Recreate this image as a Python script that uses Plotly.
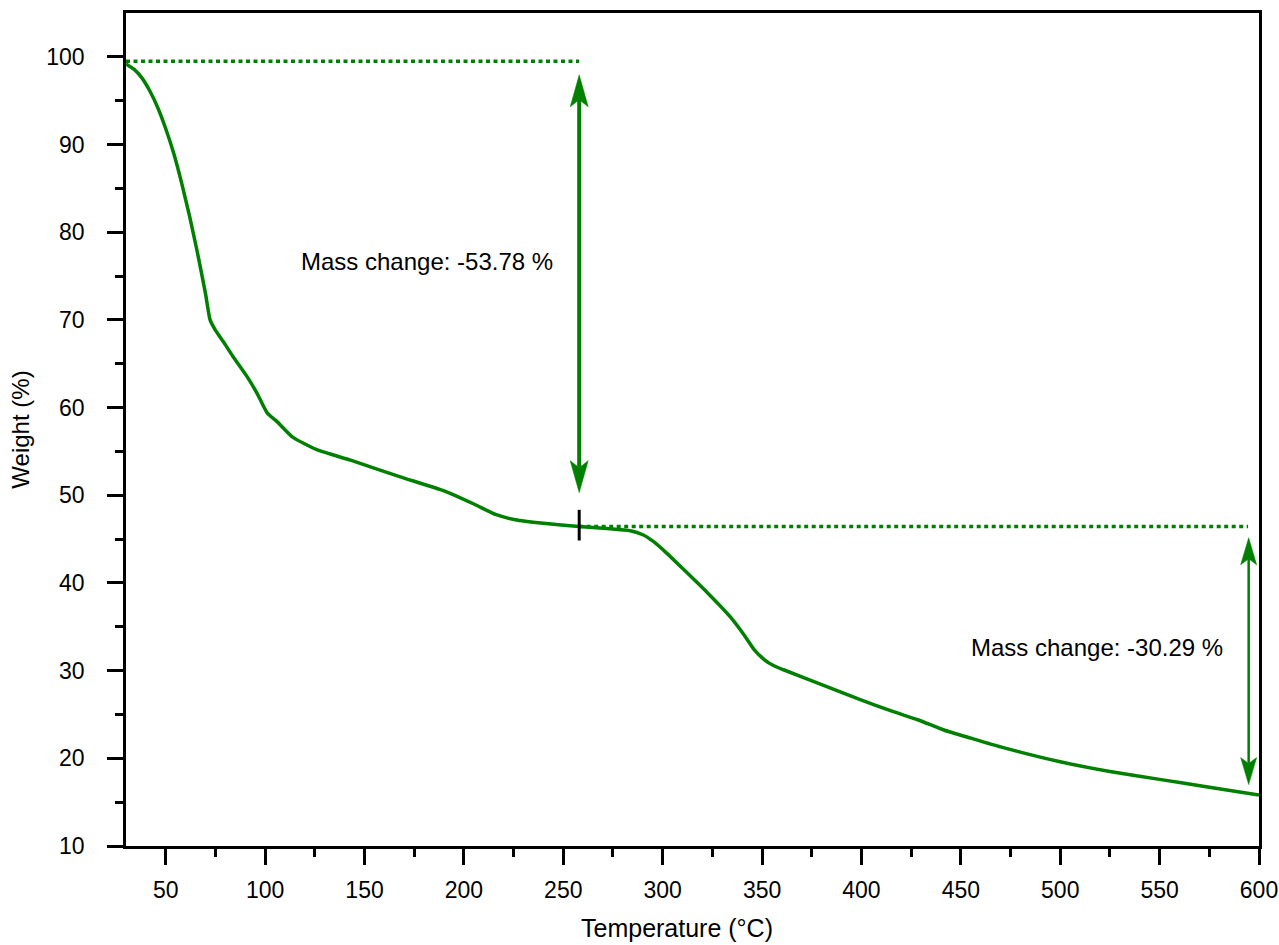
import plotly.graph_objects as go

# ---- data ----
temp = [30, 34, 38, 42, 46, 50, 54, 58, 62, 66, 70, 72.3, 74.8, 79, 83.9, 91, 96,
        101, 106, 114, 126, 143, 168, 190, 205, 216.3, 225.9, 240, 257.9, 272, 283.7, 290,
        295.3, 302, 310.7, 322, 333.8, 341.5, 346, 351.2, 356, 360.8, 380, 399.4, 415, 428.3,
        441.8, 455, 470, 500, 525, 550, 575, 600]
weight = [99.2, 98.6, 97.6, 96.1, 94.2, 91.8, 89.0, 85.6, 81.8, 77.6, 73.0, 70.0, 68.9, 67.5,
          65.8, 63.5, 61.6, 59.4, 58.4, 56.6, 55.2, 54.0, 52.1, 50.5, 49.0, 47.78, 47.2, 46.8,
          46.44, 46.2, 45.95, 45.5, 44.73, 43.4, 41.5, 39.0, 36.18, 33.9, 32.4, 31.24, 30.55,
          30.1, 28.4, 26.68, 25.4, 24.4, 23.2, 22.3, 21.3, 19.6, 18.5, 17.6, 16.7, 15.8]

start_weight = 99.5          # upper reference level
step_temp = 258              # boundary between the two steps
step_weight = 46.44          # level at the boundary
end_temp = 594.5             # end of second reference line / second arrow
arrow1_range = [97.95, 50.3]
arrow2_range = [45.15, 17.0]
labels = ["Mass change: -53.78 %", "Mass change: -30.29 %"]
label_pos = [(181.6, 76.7), (518.7, 32.6)]

x_ticks = list(range(50, 601, 50))
y_ticks = list(range(10, 101, 10))
x_minor = list(range(75, 600, 50))
y_minor = list(range(15, 100, 10))

GREEN = "rgb(0,128,0)"
FONT = "Liberation Sans, Arial, sans-serif"

X_RANGE = [30, 600]
Y_RANGE = [10, 105]
L, R, T, B = 126, 20, 13, 99
W, H = 1279, 945
px_x = (W - L - R) / (X_RANGE[1] - X_RANGE[0])
px_y = (H - T - B) / (Y_RANGE[1] - Y_RANGE[0])

fig = go.Figure()

# main curve
fig.add_trace(go.Scatter(x=temp, y=weight, mode="lines",
                         line=dict(color=GREEN, width=3.5, shape="spline", smoothing=0.5),
                         hoverinfo="skip", showlegend=False))

# dotted reference lines
fig.add_trace(go.Scatter(x=[X_RANGE[0], step_temp], y=[start_weight, start_weight], mode="lines",
                         line=dict(color=GREEN, width=3.5, dash="4px,3.5px"),
                         hoverinfo="skip", showlegend=False))
fig.add_trace(go.Scatter(x=[step_temp, end_temp], y=[step_weight, step_weight], mode="lines",
                         line=dict(color=GREEN, width=3.5, dash="4px,3.5px"),
                         hoverinfo="skip", showlegend=False))

# black step marker
fig.add_trace(go.Scatter(x=[step_temp, step_temp], y=[step_weight - 1.6, step_weight + 1.9],
                         mode="lines", line=dict(color="black", width=3),
                         hoverinfo="skip", showlegend=False))

shapes = []


def double_arrow(x, y_top, y_bot, shaft_w, head_len_px, head_hw_px):
    hl = head_len_px / px_y
    hw = head_hw_px / px_x
    notch = hl * 0.78
    shapes.append(dict(type="line", xref="x", yref="y", x0=x, x1=x,
                       y0=y_top - notch, y1=y_bot + notch,
                       line=dict(color=GREEN, width=shaft_w)))
    shapes.append(dict(type="path", xref="x", yref="y",
                       path=f"M {x},{y_top} L {x + hw},{y_top - hl} L {x},{y_top - notch} "
                            f"L {x - hw},{y_top - hl} Z",
                       fillcolor=GREEN, line=dict(color=GREEN, width=0.5)))
    shapes.append(dict(type="path", xref="x", yref="y",
                       path=f"M {x},{y_bot} L {x + hw},{y_bot + hl} L {x},{y_bot + notch} "
                            f"L {x - hw},{y_bot + hl} Z",
                       fillcolor=GREEN, line=dict(color=GREEN, width=0.5)))


double_arrow(step_temp, arrow1_range[0], arrow1_range[1], 4, 32, 9)
double_arrow(end_temp + 0.3, arrow2_range[0], arrow2_range[1], 2.5, 27, 8)

annotations = [dict(x=px_, y=py_, xref="x", yref="y", text=t, showarrow=False,
                    font=dict(family=FONT, size=24, color="black"))
               for t, (px_, py_) in zip(labels, label_pos)]

# x-axis title (slightly left of plot centre in the reference)
annotations.append(dict(x=(677 - L) / (W - L - R), y=-(928 - (H - B)) / (H - T - B),
                        xref="paper", yref="paper", xanchor="center", yanchor="middle",
                        text="Temperature (°C)", showarrow=False,
                        font=dict(family=FONT, size=25, color="black")))

axis_common = dict(showline=True, linecolor="black", linewidth=2.5, mirror=True,
                   ticks="outside", ticklen=16, tickwidth=2.5, tickcolor="black",
                   showgrid=False, zeroline=False, automargin=False,
                   tickfont=dict(family=FONT, size=23, color="black"))

fig.update_layout(
    width=W, height=H,
    margin=dict(l=L, r=R, t=T, b=B),
    plot_bgcolor="white", paper_bgcolor="white",
    shapes=shapes, annotations=annotations,
    xaxis=dict(range=X_RANGE, tickvals=x_ticks,
               minor=dict(tickvals=x_minor, ticks="outside", ticklen=8, tickwidth=2.5,
                          tickcolor="black"),
               ticklabelstandoff=6,
               **axis_common),
    yaxis=dict(range=Y_RANGE, tickvals=y_ticks,
               minor=dict(tickvals=y_minor, ticks="outside", ticklen=8, tickwidth=2.5,
                          tickcolor="black"),
               title=dict(text="Weight (%)", font=dict(family=FONT, size=24, color="black"),
                          standoff=10),
               ticklabelstandoff=18,
               **axis_common),
)

fig.write_html("out.html")
